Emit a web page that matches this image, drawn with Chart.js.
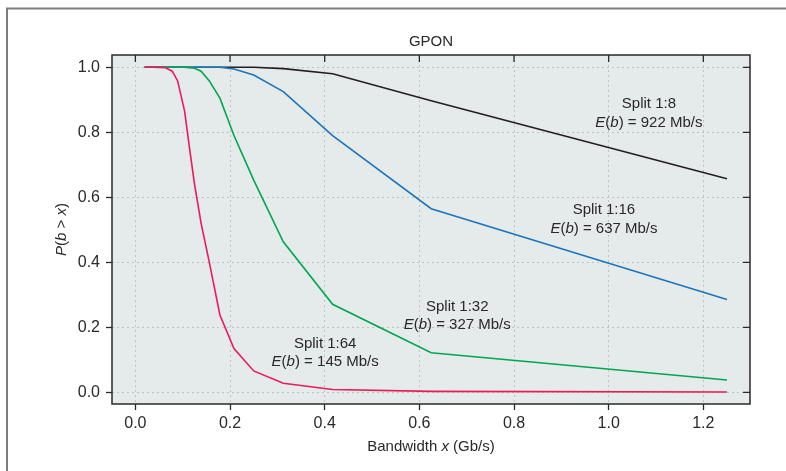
<!DOCTYPE html>
<html>
<head>
<meta charset="utf-8">
<script src="https://cdn.jsdelivr.net/npm/chart.js@4/dist/chart.umd.min.js"></script>
<style>
  html, body { margin: 0; padding: 0; background: #ffffff; }
  canvas { display: block; }
</style>
</head>
<body>
<canvas id="c" width="786" height="471"></canvas>
<script>
// ---------- data ----------
const bandwidth = [0.0195, 0.039, 0.0625, 0.078, 0.0893, 0.104, 0.1136, 0.125, 0.1389, 0.15625, 0.1786, 0.2083, 0.25, 0.3125, 0.4167, 0.625, 1.25];
const split8  = [1.0, 1.0, 1.0, 1.0, 1.0, 1.0, 1.0, 1.0, 1.0, 1.0, 1.0, 1.0, 1.0, 0.996, 0.98, 0.897, 0.657];
const split16 = [1.0, 1.0, 1.0, 1.0, 1.0, 1.0, 1.0, 1.0, 1.0, 1.0, 1.0, 0.995, 0.976, 0.925, 0.79, 0.565, 0.286];
const split32 = [1.0, 1.0, 1.0, 1.0, 1.0, 1.0, 0.999, 0.997, 0.988, 0.958, 0.905, 0.79, 0.653, 0.463, 0.271, 0.122, 0.038];
const split64 = [1.0, 1.0, 0.999, 0.988, 0.958, 0.865, 0.76, 0.64, 0.52, 0.40, 0.238, 0.135, 0.066, 0.028, 0.009, 0.003, 0.001];
const seriesNames = ["Split 1:64", "Split 1:32", "Split 1:16", "Split 1:8"];
const meanRates = ["145", "327", "637", "922"];
const xTickValues = [0.0, 0.2, 0.4, 0.6, 0.8, 1.0, 1.2];
const yTickValues = [0.0, 0.2, 0.4, 0.6, 0.8, 1.0];
const chartTitle = "GPON";

// ---------- styling ----------
const FONT = '"Liberation Sans", Arial, sans-serif';
const FS = 15;
const TICK_FS = 16;
const TEXT = '#2b2829';
const colors = ['#ec1a5a', '#00a651', '#1c75bc', '#231f20'];
const seriesValues = [split64, split32, split16, split8];
// annotation anchors (data coordinates of the centre of each two-line label)
const labelAnchors = [
  {x: 0.401, y: 0.122},
  {x: 0.680, y: 0.236},
  {x: 0.990, y: 0.533},
  {x: 1.085, y: 0.858}
];

function fontStr(italic, size) {
  return (italic ? 'italic ' : '') + size + 'px ' + FONT;
}
function drawRich(ctx, segs, x, y, size) {
  const widths = segs.map(s => { ctx.font = fontStr(s[1], size); return ctx.measureText(s[0]).width; });
  const total = widths.reduce((a, b) => a + b, 0);
  let cx = x - total / 2;
  ctx.textAlign = 'left';
  ctx.textBaseline = 'middle';
  ctx.fillStyle = TEXT;
  segs.forEach((s, i) => { ctx.font = fontStr(s[1], size); ctx.fillText(s[0], cx, y); cx += widths[i]; });
}

const decor = {
  id: 'decor',
  beforeDraw(chart) {
    const ctx = chart.ctx, a = chart.chartArea;
    ctx.save();
    ctx.fillStyle = '#ffffff';
    ctx.fillRect(0, 0, chart.width, chart.height);
    // outer gray frame (left and top)
    ctx.strokeStyle = '#7d7d7d';
    ctx.lineWidth = 2;
    ctx.beginPath();
    ctx.moveTo(7, chart.height);
    ctx.lineTo(7, 8.5);
    ctx.lineTo(chart.width, 8.5);
    ctx.stroke();
    // plot background
    ctx.fillStyle = '#e5eaea';
    ctx.fillRect(a.left, a.top, a.right - a.left, a.bottom - a.top);
    ctx.restore();
  },
  afterDraw(chart) {
    const ctx = chart.ctx, a = chart.chartArea;
    const xs = chart.scales.x, ys = chart.scales.y;
    ctx.save();
    // plot frame
    ctx.strokeStyle = TEXT;
    ctx.lineWidth = 1.5;
    ctx.strokeRect(a.left, a.top, a.right - a.left, a.bottom - a.top);
    // mirrored inward ticks on top and right
    ctx.lineWidth = 1.3;
    ctx.beginPath();
    xs.ticks.forEach(t => {
      const px = xs.getPixelForValue(t.value);
      ctx.moveTo(px, a.top); ctx.lineTo(px, a.top + 7);
    });
    ys.ticks.forEach(t => {
      const py = ys.getPixelForValue(t.value);
      ctx.moveTo(a.right, py); ctx.lineTo(a.right - 7, py);
    });
    ctx.stroke();
    // title
    drawRich(ctx, [[chartTitle, false]], (a.left + a.right) / 2, 42, FS);
    // x axis title
    drawRich(ctx, [["Bandwidth ", false], ["x", true], [" (Gb/s)", false]], (a.left + a.right) / 2, 447, FS);
    // y axis title (rotated)
    ctx.save();
    ctx.translate(62, (a.top + a.bottom) / 2);
    ctx.rotate(-Math.PI / 2);
    drawRich(ctx, [["P", true], ["(", false], ["b", true], [" > ", false], ["x", true], [")", false]], 0, 0, FS);
    ctx.restore();
    // series annotations
    labelAnchors.forEach((p, i) => {
      const cx = xs.getPixelForValue(p.x), cy = ys.getPixelForValue(p.y);
      drawRich(ctx, [[seriesNames[i], false]], cx, cy - 9.3, FS);
      drawRich(ctx, [["E", true], ["(", false], ["b", true], [") = " + meanRates[i] + " Mb/s", false]], cx, cy + 9.3, FS);
    });
    ctx.restore();
  }
};

const datasets = seriesValues.map((vals, i) => ({
  label: seriesNames[i],
  data: bandwidth.map((x, j) => ({x: x, y: vals[j]})),
  borderColor: colors[i],
  backgroundColor: colors[i],
  borderWidth: 1.6,
  pointRadius: 0,
  pointHoverRadius: 0,
  tension: 0,
  fill: false,
  order: i
}));

new Chart(document.getElementById('c'), {
  type: 'line',
  data: { datasets: datasets },
  plugins: [decor],
  options: {
    responsive: false,
    devicePixelRatio: 1,
    animation: false,
    events: [],
    layout: { padding: { top: 55, right: 36, bottom: 0, left: 0 } },
    plugins: { legend: { display: false }, title: { display: false }, tooltip: { enabled: false } },
    scales: {
      x: {
        type: 'linear',
        min: -0.0494,
        max: 1.2986,
        afterBuildTicks: s => { s.ticks = xTickValues.map(v => ({value: v})); },
        afterFit: s => { s.height = 67; },
        ticks: {
          autoSkip: false, maxRotation: 0, padding: 4,
          color: TEXT, font: { family: FONT, size: TICK_FS },
          callback: v => Number(v).toFixed(1)
        },
        grid: { color: '#bfc3c3', lineWidth: 1, drawTicks: true, tickLength: 6, tickColor: TEXT, tickWidth: 1.3 },
        border: { display: false, dash: [2, 3] }
      },
      y: {
        type: 'linear',
        min: -0.0357,
        max: 1.0378,
        afterBuildTicks: s => { s.ticks = yTickValues.map(v => ({value: v})); },
        afterFit: s => { s.width = 112; },
        ticks: {
          autoSkip: false, padding: 6,
          color: TEXT, font: { family: FONT, size: TICK_FS },
          callback: v => Number(v).toFixed(1)
        },
        grid: { color: '#bfc3c3', lineWidth: 1, drawTicks: true, tickLength: 6, tickColor: TEXT, tickWidth: 1.3 },
        border: { display: false, dash: [2, 3] }
      }
    }
  }
});
</script>
</body>
</html>
